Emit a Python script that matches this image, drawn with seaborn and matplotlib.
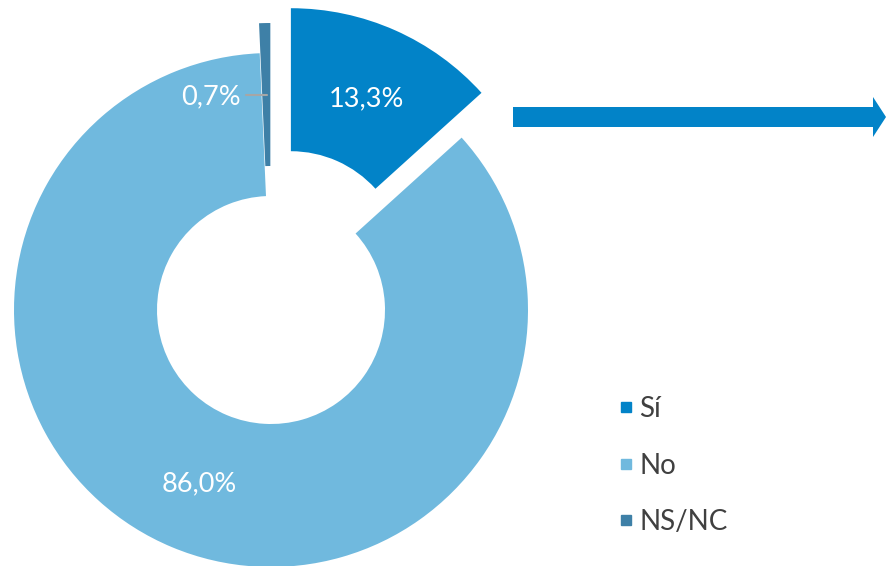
import numpy as np
import seaborn as sns
import matplotlib.pyplot as plt
from matplotlib.lines import Line2D

# data
categories = ['Sí', 'No', 'NS/NC']
shares = [13.3, 86.0, 0.7]
colors = ['#0283c8', '#70b9de', '#3e80a7']
explode = [49, 0, 30]   # pie explode is in data units here (pixels)

sns.set_theme(style='white')
plt.rcParams['font.family'] = ['Lato', 'DejaVu Sans']

W, H = 886, 566
fig = plt.figure(figsize=(W / 100, H / 100), dpi=100)
ax = fig.add_axes([0, 0, 1, 1])

R = 257
ring = 143
wedges, _ = ax.pie(shares, colors=colors, startangle=90, counterclock=False,
                   explode=explode, radius=R, center=(271, 256),
                   wedgeprops=dict(width=ring, linewidth=0))


def mid_point(w):
    # middle of the ring along the wedge's bisector
    t = np.deg2rad((w.theta1 + w.theta2) / 2)
    rm = w.r - w.width / 2
    return w.center[0] + rm * np.cos(t), w.center[1] + rm * np.sin(t)


def fmt(v):
    return f'{v:.1f}'.replace('.', ',') + '%'


for w, v, name in zip(wedges, shares, categories):
    x, y = mid_point(w)
    if name == 'NS/NC':
        ax.plot([x - 20, x + 1], [y, y], color='#a6a6a6', lw=1.5)
        ax.text(x - 26, y - 2, fmt(v), color='white', fontsize=19.5,
                ha='right', va='center')
    else:
        ax.text(x, y - 3, fmt(v), color='white', fontsize=19.5,
                ha='center', va='center')

# arrow pointing right
ax.arrow(513, H - 117, W - 513, 0, width=20, head_width=40, head_length=13,
         length_includes_head=True, color='#0283c8', linewidth=0)

handles = [Line2D([], [], marker='s', linestyle='', markersize=7,
                  markerfacecolor=c, markeredgecolor=c) for c in colors]
ax.legend(handles, categories, loc='upper left',
          bbox_to_anchor=(595 / W, 1 - 371 / H), frameon=False,
          fontsize=20, labelspacing=1.1, handletextpad=0.3,
          handlelength=0.4, labelcolor='#404040')

ax.set_xlim(0, W)
ax.set_ylim(0, H)
ax.set_aspect('equal')
ax.axis('off')

fig.savefig('out.png', dpi=100)
